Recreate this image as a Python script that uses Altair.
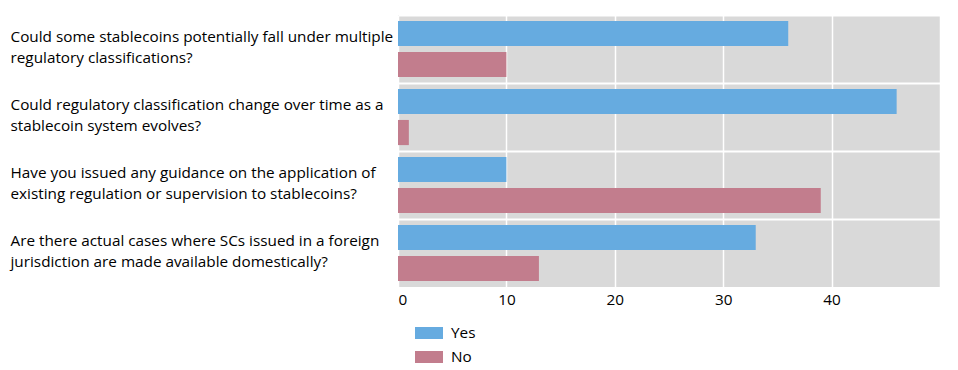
import altair as alt
import pandas as pd

questions = [
    "Could some stablecoins potentially fall under multiple|regulatory classifications?",
    "Could regulatory classification change over time as a|stablecoin system evolves?",
    "Have you issued any guidance on the application of|existing regulation or supervision to stablecoins?",
    "Are there actual cases where SCs issued in a foreign|jurisdiction are made available domestically?",
]
yes_values = [36, 46, 10, 33]
no_values = [10, 1, 39, 13]
answers = ["Yes", "No"]
colors = ["#66abe0", "#c27d8d"]
x_ticks = [0, 10, 20, 30, 40, 50]

rows = []
for q, y, n in zip(questions, yes_values, no_values):
    rows.append({"question": q, "answer": "Yes", "count": y})
    rows.append({"question": q, "answer": "No", "count": n})
df = pd.DataFrame(rows)

FONT = "Open Sans"

chart = (
    alt.Chart(df)
    .mark_bar()
    .encode(
        y=alt.Y(
            "question:N",
            sort=questions,
            scale=alt.Scale(paddingInner=0, paddingOuter=0),
            axis=alt.Axis(
                title=None,
                labelExpr="split(datum.label, '|')",
                labelAlign="left",
                labelPadding=388,
                labelFontSize=15.3,
                labelLineHeight=21,
                labelOffset=-12.5,
                labelColor="#000000",
                labelFont=FONT,
                ticks=False,
                domain=False,
                grid=True,
                gridColor="white",
                gridWidth=2,
                bandPosition=0,
                labelLimit=420,
            ),
        ),
        yOffset=alt.YOffset(
            "answer:N",
            sort=answers,
            scale=alt.Scale(paddingInner=0.19, paddingOuter=0.19),
        ),
        x=alt.X(
            "count:Q",
            scale=alt.Scale(domain=[0, 50], nice=False),
            axis=alt.Axis(
                title=None,
                values=x_ticks,
                labelExpr="datum.value == 50 ? '' : datum.label",
                labelFontSize=15.3,
                labelFont=FONT,
                labelColor="#000000",
                labelPadding=5,
                ticks=False,
                domain=False,
                grid=True,
                gridColor="white",
                gridWidth=1.5,
            ),
        ),
        color=alt.Color(
            "answer:N",
            sort=answers,
            scale=alt.Scale(domain=answers, range=colors),
            legend=alt.Legend(
                title=None,
                orient="none",
                legendX=17,
                legendY=304,
                direction="vertical",
                symbolType="M-1,-0.43H1V0.43H-1Z",
                symbolSize=784,
                symbolStrokeWidth=0,
                symbolOpacity=1,
                labelFontSize=15.3,
                labelFont=FONT,
                labelColor="#000000",
                labelOffset=8,
                rowPadding=1,
            ),
        ),
    )
    .properties(
        width=542,
        height=272,
        padding={"left": 2, "top": 7, "right": 10, "bottom": 5},
    )
    .configure_view(fill="#d9d9d9", stroke=None)
)

chart.save("out.html", embed_options={"renderer": "svg", "actions": False})
